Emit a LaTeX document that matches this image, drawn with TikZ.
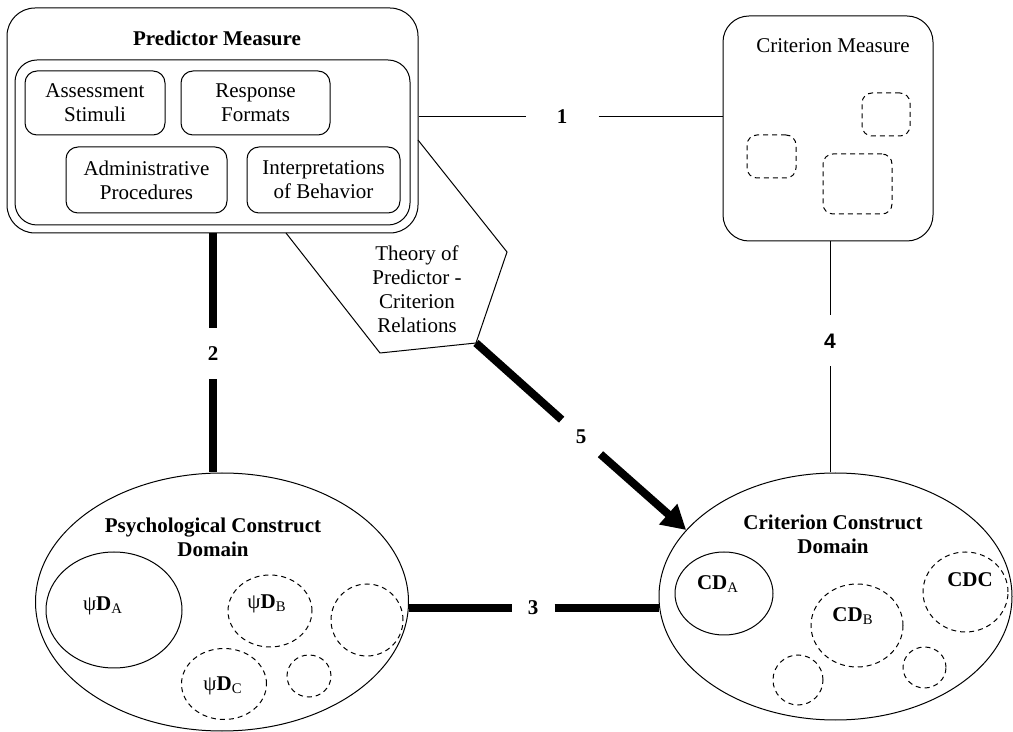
\documentclass[tikz,border=0pt]{standalone}
\usepackage{fontspec}
\setmainfont{Liberation Serif}
\newfontfamily\numsans{Liberation Sans}
\usetikzlibrary{positioning,shapes.geometric,arrows.meta}

\begin{document}
\begin{tikzpicture}[x=0.5pt,y=-0.5pt,line width=0.5pt,font=\fontsize{10.5}{12}\selectfont]
	\tikzstyle{box}=[draw,rounded corners=6pt,align=center,inner sep=0pt]
	\tikzstyle{dbox}=[draw,dashed,dash pattern=on 2.5pt off 2pt,rounded corners=5pt,inner sep=0pt]
	\tikzstyle{dom}=[draw,ellipse,inner sep=0pt]
	\tikzstyle{ddom}=[dom,dashed,dash pattern=on 2.5pt off 2pt]
	\tikzstyle{gap}=[circle,inner sep=0pt,font=\fontsize{10.5}{12}\selectfont\bfseries]
	\tikzstyle{heavy}=[line width=4pt]
	\useasboundingbox (0,0) rectangle (1013,732);
		\node[box, rounded corners=14pt, minimum width=205.5pt, minimum height=112.5pt] (pm) at (212.5,120.5) {};
		\node (pmt) at (217,38) {\textbf{Predictor Measure}};
		\node[box, rounded corners=11pt, minimum width=197.5pt, minimum height=82.5pt] (pmi) at (212.5,142.5) {};
		\node[box, minimum width=70pt, minimum height=32pt] (as) at (95,103) {Assessment\\Stimuli};
		\node[box, minimum width=74.5pt, minimum height=32pt] (rf) at (255.5,103) {Response\\Formats};
		\node[box, minimum width=80.5pt, minimum height=33pt] (ap) at (146.5,180) {Administrative\\Procedures};
		\node[box, minimum width=76.5pt, minimum height=33pt] (ib) at (323.5,180) {Interpretations\\of Behavior};
		\node[box, rounded corners=13pt, minimum width=105pt, minimum height=112.5pt] (cm) at (828,128.5) {};
		\node (cmt) at (833,46) {Criterion Measure};
		\node[dbox, minimum width=24pt, minimum height=21.5pt] (cm1) at (886,114.5) {};
		\node[dbox, minimum width=24.5pt, minimum height=21.5pt] (cm2) at (771.5,156.5) {};
		\node[dbox, minimum width=34.5pt, minimum height=30pt] (cm3) at (857.5,184) {};
		\coordinate (th) at (476,343);
			\draw (286,233) -- (380,353) -- (th) -- (507,252) -- (418,140);
		\node[align=center] (thl) at (417,289) {Theory of\\Predictor -\\Criterion\\Relations};
		\node[dom, minimum width=186.5pt, minimum height=129pt] (pcd) at (222,602) {};
		\node[align=center] (pcdt) at (213,537) {\textbf{Psychological Construct}\\\textbf{Domain}};
		\node[dom, minimum width=68pt, minimum height=58pt] (pa) at (114,610) {};
		\node (pat) at (103,606) {ψ\textbf{D}\textsubscript{A}};
		\node[ddom, minimum width=42pt, minimum height=36pt] (pb) at (270,611) {};
		\node (pbt) at (267,604) {ψ\textbf{D}\textsubscript{B}};
		\node[ddom, minimum width=42.5pt, minimum height=35.5pt] (pc) at (224,684) {};
		\node (pct) at (223,686) {ψ\textbf{D}\textsubscript{C}};
		\node[ddom, minimum width=36pt, minimum height=36pt] (pe) at (367,620) {};
		\node[ddom, minimum width=22pt, minimum height=21pt] (pf) at (309,676) {};
		\node[dom, minimum width=176.5pt, minimum height=123.5pt] (ccd) at (835.5,596.5) {};
		\node[align=center] (ccdt) at (833,534) {\textbf{Criterion Construct}\\\textbf{Domain}};
		\node[dom, minimum width=49pt, minimum height=41.5pt] (ca) at (724,593.5) {};
		\node (cat) at (718,584) {\textbf{CD}\textsubscript{A}};
		\node[ddom, minimum width=46pt, minimum height=41.5pt] (cb) at (857,625.5) {};
		\node (cbt) at (853,616) {\textbf{CD}\textsubscript{B}};
		\node[ddom, minimum width=42.5pt, minimum height=40pt] (cc) at (965.5,592) {};
		\node (cct) at (970,580) {\textbf{CDC}};
		\node[ddom, minimum width=25pt, minimum height=25pt] (cx) at (798,680) {};
		\node[ddom, minimum width=21.5pt, minimum height=20.5pt] (cy) at (924.5,667.5) {};
		\node[gap, minimum size=36pt] (l1) at (562,117) {1};
		\node[gap, minimum size=25pt] (l2) at (213,354) {2};
		\node[gap, minimum size=21pt] (l3) at (533,608) {3};
		\node[gap, minimum size=25pt, font=\fontsize{10.5}{12}\selectfont\numsans\bfseries] (l4) at (830,341) {4};
		\node[gap, minimum size=25.5pt] (l5) at (581,437) {5};
			\draw (l1 -| pm.east) -- (l1) -- (l1 -| cm.west);
			\draw[heavy] (l2 |- pm.south) -- (l2) -- (l2 |- pcd.north);
			\draw[heavy] (l3 -| pcd.east) -- (l3) -- (l3 -| ccd.west);
			\draw (l4 |- cm.south) -- (l4) -- (l4 |- ccd.north);
			\draw[heavy] (th) -- (l5);
			\draw[heavy, -{Triangle[length=12pt,width=13pt]}] (l5) -- (ccd.156);
\end{tikzpicture}
\end{document}
